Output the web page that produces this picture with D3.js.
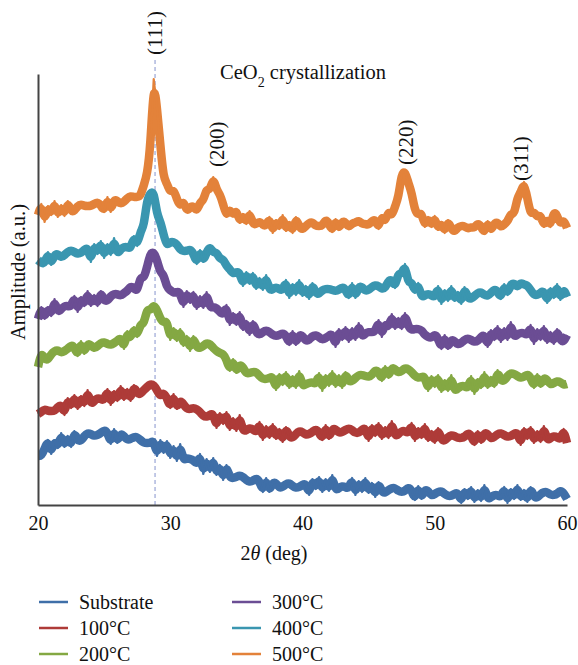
<!DOCTYPE html>
<html>
<head>
<meta charset="utf-8">
<script src="https://cdn.jsdelivr.net/npm/d3@7"></script>
<style>
  html, body { margin: 0; padding: 0; background: #fff; }
  svg { display: block; }
</style>
</head>
<body>
<svg id="chart" width="578" height="665"></svg>
<script>
// ---- data (2θ scan from 20° to 60°, step 0.25°) ----
const thetaStart = 20, thetaEnd = 60, thetaStep = 0.25;
const xTicks = [20, 30, 40, 50, 60];
const seriesNames = ["Substrate", "100°C", "200°C", "300°C", "400°C", "500°C"];
const seriesColors = ["#3f6fa8", "#ae3b38", "#84a843", "#6b4d94", "#3a96b0", "#e3823a"];

const substrate = [
  49,49,56,65, 51,65,57,72, 58,69,58,74, 64,64,69,72, 71,69,70,72,
  75,73,61,76, 62,72,69,65, 66,68,68,65, 62,62,62,65, 49,65,52,64,
  47,59,44,61, 44,47,46,45, 40,51,31,46, 33,47,30,40, 25,40,27,27,
  28,30,28,25, 23,24,27,24, 13,27,13,23, 22,17,18,21, 22,19,17,18,
  20,22,10,26, 16,28,13,26, 14,30,14,17, 19,18,16,27, 10,24,13,27,
  12,22,8,23, 13,12,15,17, 17,14,13,14, 18,15,5,19, 6,16,14,9,
  11,13,14,11, 9,9,11,13, 2,16,6,18, 3,15,4,20, 5,8,10,10,
  7,18,2,16, 6,20,5,15, 3,18,8,7, 11,13,13,10, 10,11,15,12, 6
];
const t100 = [
  91,93,96,94, 94,94,98,101, 90,107,97,110, 96,109,99,115, 100,104,107,106,
  104,116,100,114, 104,119,105,116, 104,120,111,111, 115,118,121,120, 115,108,113,107,
  97,111,96,105, 101,96,96,97, 96,93,89,88, 90,92,77,92, 81,93,75,87,
  74,90,73,75, 77,76,72,83, 65,79,67,81, 66,76,63,78, 68,67,71,74,
  73,70,71,73, 76,73,65,80, 66,76,76,72, 73,75,77,75, 72,72,75,78,
  64,80,69,82, 66,78,67,84, 68,71,74,74, 71,82,64,77, 67,81,64,74,
  62,77,65,64, 68,70,69,67, 67,68,72,70, 60,74,62,73, 71,66,68,71,
  72,70,68,69, 71,73,60,77, 66,78,62,74, 63,79,64,67, 69,68,65,76, 62
];
const t200 = [
  138,153,146,145, 151,154,155,152, 154,156,160,158, 149,164,151,162, 160,156,159,162,
  163,161,160,162, 164,168,156,174, 165,178,168,182, 180,197,194,201, 195,186,182,185,
  165,177,164,176, 159,169,154,169, 157,157,159,162, 161,157,154,152, 151,146,134,146,
  132,141,138,131, 132,133,133,129, 126,126,127,129, 115,131,120,133, 117,129,117,134,
  118,121,122,123, 120,132,114,130, 119,134,118,130, 117,133,123,124, 127,130,130,129,
  128,130,135,134, 124,139,127,138, 136,132,134,137, 136,133,129,127, 128,129,114,129,
  118,130,113,125, 114,130,113,117, 119,119,116,129, 111,126,117,133, 117,128,118,135,
  124,124,129,132, 131,129,127,128, 131,128,117,131, 118,128,125,120, 122,124,123,120, 121
];
const t300 = [
  186,198,186,198, 189,206,192,196, 199,199,198,209, 193,208,199,214, 199,210,199,214,
  204,204,209,211, 211,209,212,214, 219,217,213,229, 226,238,252,253, 245,232,231,217,
  215,212,213,213, 198,214,202,213, 196,209,197,213, 197,198,197,193, 190,200,180,192,
  180,193,175,184, 170,184,172,170, 173,175,173,170, 169,170,172,170, 160,174,160,171,
  169,164,165,169, 170,168,165,167, 169,172,158,176, 165,178,163,177, 165,182,167,172,
  173,173,173,185, 168,183,176,191, 176,187,176,192, 178,175,176,176, 175,170,168,167,
  171,167,156,170, 156,166,164,160, 162,165,167,165, 163,164,168,171, 158,175,165,179,
  163,177,165,183, 167,171,172,172, 169,180,161,176, 165,179,162,173, 161,176,164,163, 170
];
const t400 = [
  245,242,241,253, 240,251,251,247, 250,253,255,253, 251,252,255,258, 243,261,251,264,
  247,261,250,267, 250,256,258,258, 256,269,259,274, 278,306,312,314, 290,284,270,259,
  263,263,261,255, 254,254,256,252, 241,255,243,253, 259,252,253,246, 246,239,236,231,
  233,233,219,233, 221,232,216,227, 215,230,214,216, 218,216,214,225, 207,221,210,225,
  209,219,206,222, 211,211,215,216, 216,215,214,215, 218,216,207,222, 207,219,218,214,
  215,218,220,219, 216,217,224,226, 217,233,230,241, 221,224,212,222, 207,210,211,210,
  207,219,201,215, 204,219,204,213, 201,218,207,206, 209,212,213,210, 209,212,216,214,
  206,221,210,221, 222,217,223,220, 220,215,210,210, 212,215,202,217, 207,221,205,217, 208
];
const t500 = [
  290,301,283,299, 290,304,288,300, 289,304,293,294, 299,301,299,299, 299,301,303,300,
  293,308,293,306, 304,301,303,307, 309,308,308,309, 320,330,358,426, 397,360,326,322,
  312,316,306,298, 305,293,298,299, 293,303,304,317, 314,328,315,311, 301,288,297,289,
  296,282,291,281, 294,280,281,284, 280,279,288,272, 285,276,290,274, 283,272,288,278,
  275,279,282,283, 279,279,279,286, 282,273,286,275, 284,283,277,282, 282,285,281,281,
  280,284,286,276, 290,282,295,288, 299,307,332,334, 322,313,294,290, 293,278,288,278,
  289,275,283,272, 285,276,273,278, 279,279,276,278, 277,282,279,271, 284,273,282,283,
  277,281,283,292, 290,308,312,323, 307,290,294,287, 291,278,287,278, 294,290,280,286, 277
];
const seriesValues = [substrate, t100, t200, t300, t400, t500];

const peakLabels = ["(111)", "(200)", "(220)", "(311)"];
const peakTheta = [28.85, 33.5, 47.85, 56.5];
const peakLabelBase = [450, 338, 340, 324];
const referenceTheta = 28.85;

// ---- layout ----
const FONT = "Liberation Serif";
const svg = d3.select("#chart");
const margin = { left: 38, right: 11, top: 74, bottom: 160 };
const W = 578, H = 665;
const x = d3.scaleLinear().domain([thetaStart, thetaEnd]).range([margin.left, W - margin.right]);
const y = d3.scaleLinear().domain([0, 431]).range([H - margin.bottom, margin.top]);

const grid = d3.range(seriesValues[0].length).map(i => thetaStart + i * thetaStep);

// reference dashed line
svg.append("line")
  .attr("x1", x(referenceTheta)).attr("x2", x(referenceTheta))
  .attr("y1", 60).attr("y2", y(0))
  .attr("stroke", "#9aa6d6").attr("stroke-width", 1.2)
  .attr("stroke-dasharray", "4,3");

// series: a thick smoothed band plus the raw noisy trace on top
const band = d3.line().curve(d3.curveBasis).x((d, i) => x(grid[i])).y(d => y(d));
const raw = d3.line().x((d, i) => x(grid[i])).y(d => y(d));
seriesValues.forEach((vals, k) => {
  const g = svg.append("g");
  g.append("path").datum(vals).attr("d", band)
    .attr("fill", "none").attr("stroke", seriesColors[k])
    .attr("stroke-width", 8.5).attr("stroke-linejoin", "round");
  g.append("path").datum(vals).attr("d", raw)
    .attr("fill", "none").attr("stroke", seriesColors[k])
    .attr("stroke-width", 2.2).attr("stroke-linejoin", "round");
});

function txt(sel) {
  return sel.attr("font-family", FONT).attr("fill", "#111");
}

// axes
const xAxis = d3.axisBottom(x).tickValues(xTicks).tickSize(0).tickPadding(11).tickFormat(d3.format("d"));
const gx = svg.append("g").attr("transform", `translate(0,${y(0)})`).call(xAxis);
gx.attr("font-family", FONT).attr("font-size", 20);
gx.select(".domain").attr("stroke", "#444").attr("stroke-width", 2);
txt(gx.selectAll("text"));

const yAxis = d3.axisLeft(y).tickValues([]).tickSize(0);
const gy = svg.append("g").attr("transform", `translate(${margin.left},0)`).call(yAxis);
gy.select(".domain").attr("stroke", "#444").attr("stroke-width", 2);

// title
const title = txt(svg.append("text")).attr("x", 303).attr("y", 79).attr("text-anchor", "middle").attr("font-size", 20.5);
title.append("tspan").text("CeO");
title.append("tspan").attr("baseline-shift", "sub").attr("font-size", 14).text("2");
title.append("tspan").text(" crystallization");

// axis titles
const xt = txt(svg.append("text")).attr("x", 274).attr("y", 560).attr("text-anchor", "middle").attr("font-size", 20);
xt.append("tspan").text("2");
xt.append("tspan").attr("font-style", "italic").text("θ");
xt.append("tspan").text(" (deg)");

txt(svg.append("text"))
  .attr("transform", `translate(25,272) rotate(-90)`)
  .attr("text-anchor", "middle").attr("font-size", 20.5)
  .text("Amplitude (a.u.)");

// peak labels
peakLabels.forEach((lab, i) => {
  txt(svg.append("text"))
    .attr("transform", `translate(${x(peakTheta[i]) + 7},${y(peakLabelBase[i])}) rotate(-90)`)
    .attr("text-anchor", "start").attr("font-size", 21)
    .text(lab);
});

// legend
const legend = svg.append("g");
seriesNames.forEach((name, k) => {
  const col = Math.floor(k / 3), row = k % 3;
  const lx = col === 0 ? 39 : 232;
  const ly = 602 + row * 26;
  legend.append("line").attr("x1", lx).attr("x2", lx + 29).attr("y1", ly).attr("y2", ly)
    .attr("stroke", seriesColors[k]).attr("stroke-width", 2.5);
  txt(legend.append("text")).attr("x", lx + 40).attr("y", ly + 7).attr("font-size", 20).text(name);
});
</script>
</body>
</html>
